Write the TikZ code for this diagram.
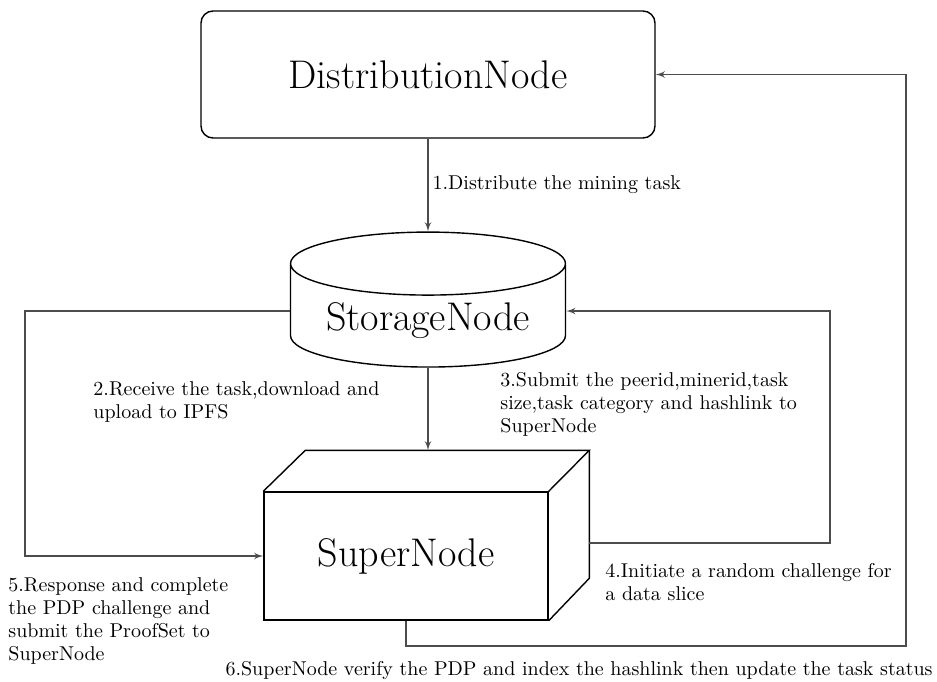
\documentclass[tikz,border=0pt]{standalone}
\usepackage{tikz}
\usetikzlibrary{shapes,arrows,positioning}
\tikzstyle{distbox} = [draw, rectangle, rounded corners=6pt, line width=0.7pt, minimum width=227pt, minimum height=63.5pt, font=\fontsize{20}{24}\selectfont]
\tikzstyle{storecyl} = [draw, cylinder, shape border rotate=90, aspect=0.29, line width=0.7pt, minimum width=137.5pt, minimum height=58.5pt, font=\fontsize{20}{24}\selectfont]
\tikzstyle{superbox} = [draw, rectangle, line width=0.7pt, minimum width=142pt, minimum height=64pt, font=\fontsize{20}{24}\selectfont]
\tikzstyle{note} = [text=black, font=\fontsize{10}{11.5}\selectfont, align=left, inner sep=2pt]
\tikzstyle{wire} = [draw, black!70, line width=0.6pt]

\begin{document}
\begin{tikzpicture}[auto, >=latex']
    \useasboundingbox (0,0) rectangle (468.5pt,-340.5pt);
    \node [distbox] (dist) at (214pt,-37.25pt) {DistributionNode};
    \node [storecyl, below of=dist, node distance=123pt] (store) {StorageNode};
    \node [superbox, below of=store, node distance=117.75pt, xshift=-11pt] (super) {SuperNode};
    % back faces of the box
    \draw [line width=0.7pt] (super.north west) -- ++(21pt,20.5pt) coordinate (sbtop) -- ++(142pt,0) coordinate (sbne) -- (super.north east);
    \draw [line width=0.7pt] (sbne) -- ++(0,-64pt) -- (super.south east);
    \coordinate (c3) at (415pt,-155.5pt);
    \coordinate (c5) at (12.5pt,-278pt);
    \coordinate (c6) at (453pt,-323pt);
    \coordinate (sbright) at ([yshift=6.5pt]sbne |- super.east);

    \path [wire, ->] (dist) -- node [note, right] (n1) {1.Distribute the mining task} (store);
    \path [wire, ->] (store.south) -- node [note, left, pos=0.42, xshift=-22pt] (n2) {2.Receive the task,download and\\upload to IPFS} (store.south |- sbtop);
    \path [wire, ->] (sbright) -| (c3) -- (store.east |- c3);
    \path [wire, ->] (store.west |- c3) -| (c5) -- (super.west);
    \path [wire, ->] (super.south) |- (c6) |- (dist.east);

    \node [note, anchor=west] (n3) at (248pt,-202pt) {3.Submit the peerid,minerid,task\\size,task category and hashlink to\\SuperNode};
    \node [note, anchor=west] (n4) at (300.5pt,-291pt) {4.Initiate a random challenge for\\a data slice};
    \node [note, anchor=west] (n5) at (2pt,-310.5pt) {5.Response and complete\\the PDP challenge and\\submit the ProofSet to\\SuperNode};
    \node [note, anchor=base east] (n6) at (468.5pt,-337.5pt) {6.SuperNode verify the PDP and index the hashlink then update the task status};
\end{tikzpicture}
\end{document}
